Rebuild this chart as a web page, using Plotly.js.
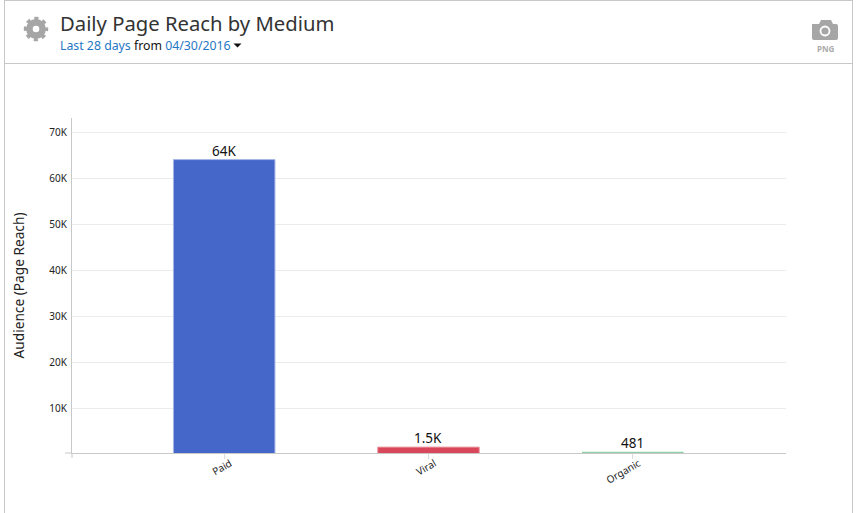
<!DOCTYPE html>
<html>
<head>
<meta charset="utf-8">
<script src="https://cdn.plot.ly/plotly-3.0.1.min.js"></script>
<style>
html,body{margin:0;padding:0;background:#fff;overflow:hidden}
#chart{position:absolute;left:0;top:0;width:856px;height:513px}
#icons{position:absolute;left:0;top:0;pointer-events:none}
</style>
</head>
<body>
<div id="chart"></div>
<svg id="icons" width="856" height="513">
  <g fill="none" stroke="#a6a6a6">
    <circle cx="36" cy="29" r="6.6" stroke-width="6.6"/>
    <circle cx="36" cy="29" r="10.5" stroke-width="3.4" stroke-dasharray="4.1 4.15" stroke-dashoffset="2"/>
  </g>
  <path d="M814 24 h5 l2 -4 h10 l2 4 h3 a2 2 0 0 1 2 2 v12 a2 2 0 0 1 -2 2 h-22 a2 2 0 0 1 -2 -2 v-14 z" fill="#a6a6a6"/>
  <circle cx="825" cy="31" r="4.5" fill="none" stroke="#fff" stroke-width="1.8"/>
  <path d="M233.5 43.5 h8 l-4 4 z" fill="#111"/>
</svg>
<script>
var categories = ["Paid", "Viral", "Organic"];
var reach = [64000, 1500, 481];
var barLabels = ["64K", "1.5K", "481"];
var barColors = ["#4467c9", "#d9485a", "#8fd1a5"];
var barEdges = ["#a5b6e6", "#ec9aa4", "#8fd1a5"];
var barEdgeWidths = [1, 1, 0];
var yTickVals = [10000, 20000, 30000, 40000, 50000, 60000, 70000];
var yTickText = ["10K", "20K", "30K", "40K", "50K", "60K", "70K"];

var W = 856, H = 513;
var M = {l: 72, r: 70, t: 118, b: 60};
function px(x){ return (x - M.l) / (W - M.l - M.r); }
function py(y){ return 1 - (y - M.t) / (H - M.t - M.b); }
function frame(x0, y0, x1, y1, color){
  return {type: "line", xref: "paper", yref: "paper", layer: "above",
          x0: px(x0), x1: px(x1), y0: py(y0), y1: py(y1),
          line: {color: color, width: 1}};
}

var trace = {
  type: "bar",
  x: categories,
  y: reach,
  width: 0.497,
  marker: {color: barColors, line: {color: barEdges, width: barEdgeWidths}},
  hoverinfo: "x+y"
};

var valueNotes = categories.map(function(c, i){
  return {xref: "x", yref: "y", x: c, y: reach[i], yanchor: "middle", xanchor: "center",
          yshift: 9, showarrow: false, text: barLabels[i],
          font: {family: "Noto Sans, sans-serif", size: 13.5, color: "#111"}};
});

var layout = {
  width: W, height: H,
  margin: M,
  paper_bgcolor: "#fff",
  plot_bgcolor: "#fff",
  showlegend: false,
  font: {family: "Noto Sans, sans-serif", color: "#222"},
  title: {
    text: "Daily Page Reach by Medium",
    font: {family: "Noto Sans, sans-serif", size: 20.25, color: "#333"},
    x: 60 / W, xanchor: "left", xref: "container",
    y: 1 - 24 / H, yanchor: "middle", yref: "container"
  },
  xaxis: {
    type: "category",
    range: [-0.745, 2.75],
    tickangle: -30,
    ticks: "outside", ticklen: 5, tickcolor: "#ddd", tickwidth: 1,
    ticklabelshift: 6, ticklabelstandoff: -5,
    tickfont: {family: "Noto Sans, sans-serif", size: 10, color: "#222"},
    showgrid: false, zeroline: false,
    showline: true, linecolor: "#c8c8c8", linewidth: 1
  },
  yaxis: {
    range: [217, 73043],
    tickvals: yTickVals, ticktext: yTickText,
    ticks: "", ticklen: 0, ticklabelstandoff: 2,
    tickfont: {family: "Noto Sans, sans-serif", size: 10, color: "#222"},
    showgrid: true, gridcolor: "#ececec", gridwidth: 1,
    zeroline: false,
    showline: true, linecolor: "#c8c8c8", linewidth: 1,
    title: {text: "Audience (Page Reach)", standoff: 21,
            font: {family: "Noto Sans, sans-serif", size: 13.7, color: "#222"}}
  },
  annotations: valueNotes.concat([
    {xref: "paper", yref: "paper", x: px(58), y: py(45), xanchor: "left", yanchor: "middle",
     showarrow: false, align: "left",
     text: '<span style="color:#1f78c4">Last 28 days</span> from <span style="color:#1f78c4">04/30/2016</span>',
     font: {family: "Noto Sans, sans-serif", size: 12.3, color: "#111"}},
    {xref: "paper", yref: "paper", x: px(825), y: py(48), xanchor: "center", yanchor: "middle",
     showarrow: false, text: "<b>PNG</b>",
     font: {family: "Noto Sans, sans-serif", size: 8, color: "#aaa"}}
  ]),
  shapes: [
    frame(4.5, 0.5, 852.5, 0.5, "#c8c8c8"),
    frame(4.5, 0, 4.5, 513, "#c8c8c8"),
    frame(852.5, 0, 852.5, 513, "#c8c8c8"),
    frame(4.5, 63.5, 852.5, 63.5, "#c8c8c8"),
    frame(65, 453, 72, 453, "#c8c8c8"),
    frame(72, 453, 72, 458, "#c8c8c8")
  ]
};

Plotly.newPlot("chart", [trace], layout, {displayModeBar: false, staticPlot: true});
</script>
</body>
</html>
